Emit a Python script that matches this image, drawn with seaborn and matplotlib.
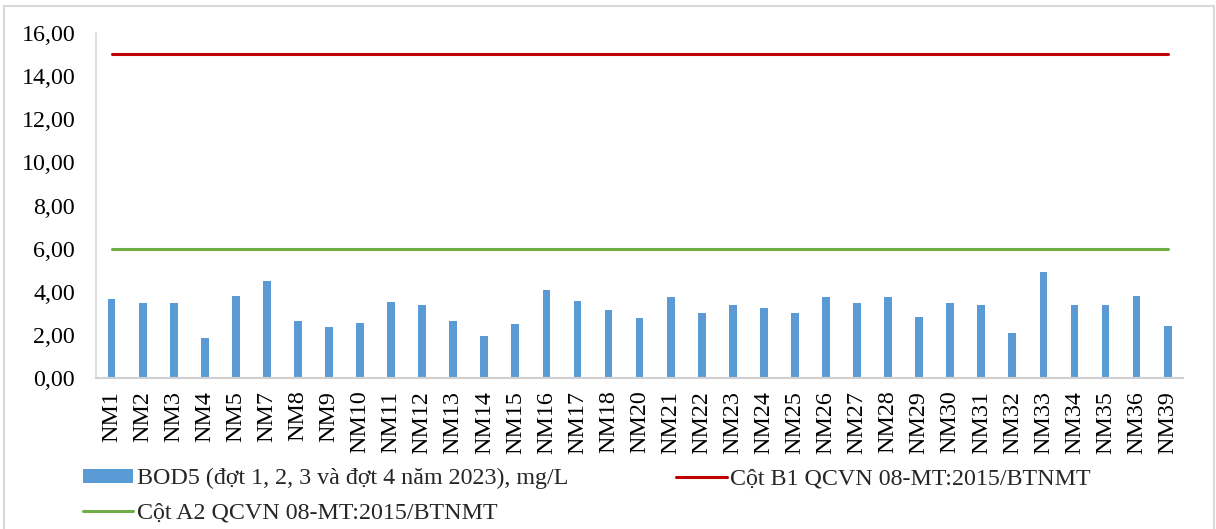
import numpy as np
import pandas as pd
import matplotlib
matplotlib.use("Agg")
import matplotlib.pyplot as plt
from matplotlib.patches import Rectangle
import seaborn as sns

categories = ["NM1", "NM2", "NM3", "NM4", "NM5", "NM7", "NM8", "NM9", "NM10", "NM11",
              "NM12", "NM13", "NM14", "NM15", "NM16", "NM17", "NM18", "NM20", "NM21", "NM22",
              "NM23", "NM24", "NM25", "NM26", "NM27", "NM28", "NM29", "NM30", "NM31", "NM32",
              "NM33", "NM34", "NM35", "NM36", "NM39"]
bod5 = [3.68, 3.48, 3.50, 1.86, 3.81, 4.51, 2.65, 2.35, 2.57, 3.55,
        3.38, 2.64, 1.96, 2.52, 4.09, 3.58, 3.15, 2.80, 3.78, 3.04,
        3.38, 3.24, 3.04, 3.74, 3.49, 3.78, 2.84, 3.49, 3.41, 2.09,
        4.94, 3.41, 3.40, 3.83, 2.42]
limit_b1 = 15.0
limit_a2 = 6.0
yticks = [0, 2, 4, 6, 8, 10, 12, 14, 16]
ytick_labels = ["0,00", "2,00", "4,00", "6,00", "8,00", "10,00", "12,00", "14,00", "16,00"]
label_bar = "BOD5 (đợt 1, 2, 3 và đợt 4 năm 2023), mg/L"
label_b1 = "Cột B1 QCVN 08-MT:2015/BTNMT"
label_a2 = "Cột A2 QCVN 08-MT:2015/BTNMT"

FS = 17.3

sns.set_theme(style="white")
plt.rcParams["font.family"] = ["Liberation Serif", "DejaVu Serif"]

fig = plt.figure(figsize=(12.16, 5.29), dpi=100)
ax = fig.add_axes([0.079, 0.285, 0.894, 0.653])

df = pd.DataFrame({"cat": categories, "val": bod5})
sns.barplot(data=df, x="cat", y="val", color="#5B9BD5", saturation=1, width=0.25,
            linewidth=0, ax=ax, label=label_bar)

xpos = np.arange(len(categories))
sns.lineplot(x=xpos, y=[limit_b1] * len(categories), color="#C00000", linewidth=2.2,
             ax=ax, label=label_b1)
sns.lineplot(x=xpos, y=[limit_a2] * len(categories), color="#70AD47", linewidth=2.2,
             ax=ax, label=label_a2)

ax.set_xlim(-0.5, len(categories) - 0.5)
ax.set_ylim(0, 16)
ax.set_yticks(yticks)
ax.set_yticklabels(ytick_labels, fontsize=FS)
ax.set_xticks(xpos)
ax.set_xticklabels(categories, rotation=90, fontsize=FS)
ax.tick_params(axis="y", length=0, pad=15, colors="black")
ax.tick_params(axis="x", length=0, pad=9, colors="black")
ax.set_xlabel("")
ax.set_ylabel("")
for s in ["top", "right"]:
    ax.spines[s].set_visible(False)
ax.spines["left"].set_color("#D9D9D9")
ax.spines["bottom"].set_color("#D0D0D0")
ax.spines["left"].set_linewidth(1.2)
ax.spines["bottom"].set_linewidth(1.5)
ax.grid(False)

h, l = ax.get_legend_handles_labels()
d = dict(zip(l, h))
ax.legend([d[label_bar], d[label_a2], d[label_b1]], [label_bar, label_a2, label_b1],
          ncol=2, loc="upper left", bbox_to_anchor=(0.068, 0.115), bbox_transform=fig.transFigure,
          frameon=False, fontsize=FS, handlelength=2.1, handleheight=0.5, handletextpad=0.15,
          columnspacing=4.5, labelspacing=0.55, borderaxespad=0, borderpad=0)

fig.patches.append(Rectangle((4 / 1216, -0.05), 1210 / 1216, 1.05 - 6 / 529,
                             transform=fig.transFigure, fill=False,
                             edgecolor="#D9D9D9", linewidth=1.5))

fig.savefig("out.png", dpi=100)
